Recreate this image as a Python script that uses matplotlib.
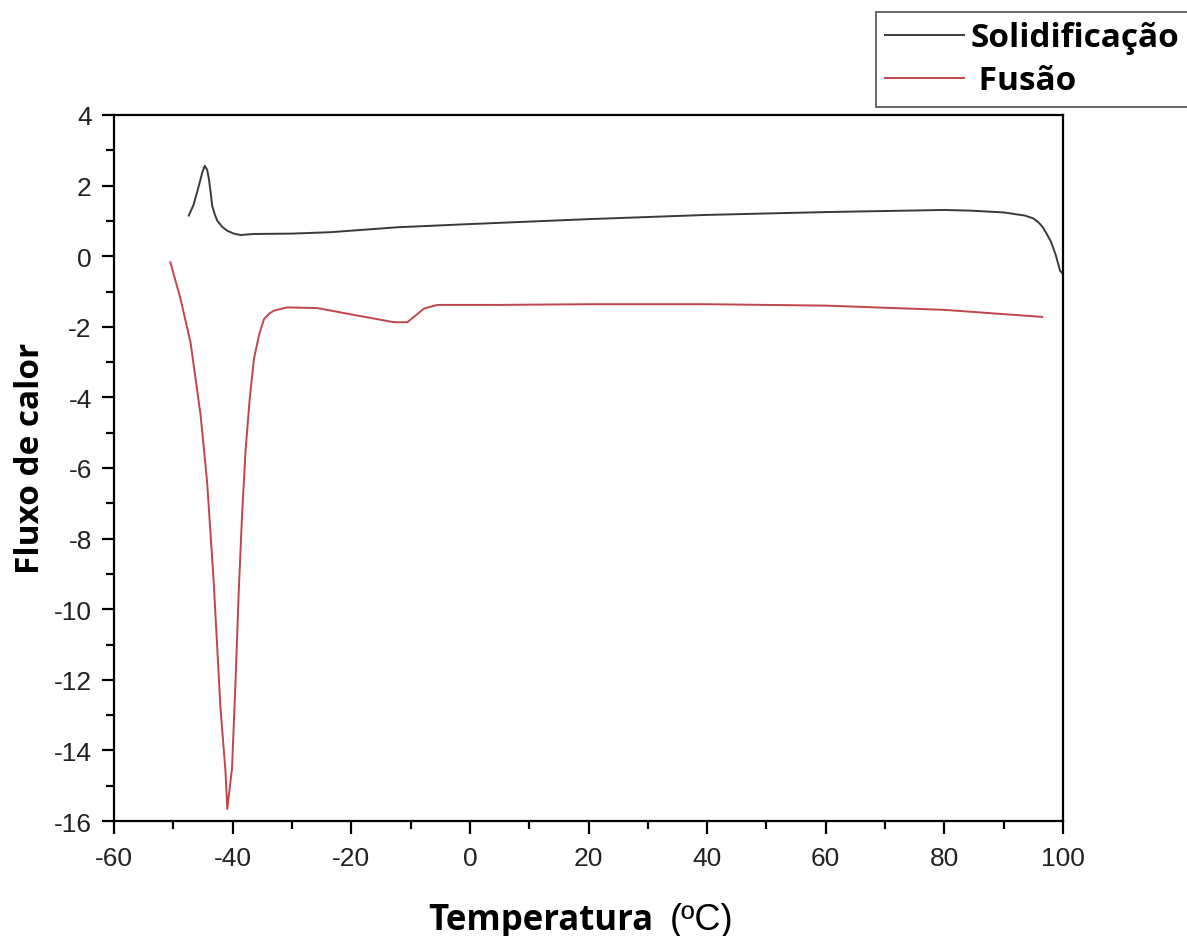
import matplotlib
matplotlib.use("Agg")
import matplotlib.pyplot as plt
from matplotlib.ticker import MultipleLocator

plt.rcParams["axes.unicode_minus"] = False

# Data
solid_T = [-47.4, -46.6, -46.0, -45.5, -45.1, -44.7, -44.3, -44.0, -43.7, -43.45,
           -43.0, -42.6, -41.8, -40.9, -39.8, -38.7, -36.4,
           -30.0, -23.5, -12.2, 0.0, 20.0, 40.0, 60.0, 80.0, 84.5, 90.0, 93.6,
           95.0, 95.8, 96.6, 97.3, 98.0, 98.8, 99.5, 100.0]
solid_Q = [1.15, 1.45, 1.81, 2.12, 2.38, 2.56, 2.45, 2.19, 1.80, 1.43,
           1.18, 1.01, 0.84, 0.72, 0.64, 0.60, 0.63,
           0.64, 0.68, 0.82, 0.91, 1.05, 1.17, 1.25, 1.31, 1.29, 1.24, 1.15,
           1.07, 0.97, 0.82, 0.62, 0.40, 0.02, -0.41, -0.50]

fus_T = [-50.5, -48.8, -47.1, -45.4, -44.3, -43.2, -42.05, -41.2, -40.9, -40.1, -39.5,
         -38.97, -38.4, -37.8, -37.1, -36.4, -35.5, -34.7, -33.8, -33.0, -30.8,
         -25.7, -19.0, -12.8, -10.55, -9.0, -7.7, -5.5, 4.6, 20.0, 40.0, 60.0,
         80.0, 96.5]
fus_Q = [-0.17, -1.2, -2.44, -4.5, -6.4, -9.2, -12.8, -14.6, -15.66, -14.5, -12.0,
         -9.5, -7.3, -5.46, -4.0, -2.9, -2.2, -1.78, -1.62, -1.54, -1.45,
         -1.47, -1.68, -1.87, -1.87, -1.66, -1.48, -1.38, -1.38, -1.36, -1.36,
         -1.40, -1.52, -1.72]

series_labels = ["Solidificação", " Fusão"]
x_label = "Temperatura"
x_unit = "(ºC)"
y_label = "Fluxo de calor"

fig = plt.figure(figsize=(11.87, 9.37), dpi=100)
ax = fig.add_axes([114 / 1187, 1 - 822 / 937, 949 / 1187, 706 / 937])

l1, = ax.plot(solid_T, solid_Q, color="#3a3a3a", lw=1.4)
l2, = ax.plot(fus_T, fus_Q, color="#c0464a", lw=1.4)

ax.set_xlim(-60, 100)
ax.set_ylim(-16, 4)
ax.xaxis.set_major_locator(MultipleLocator(20))
ax.xaxis.set_minor_locator(MultipleLocator(10))
ax.yaxis.set_major_locator(MultipleLocator(2))
ax.yaxis.set_minor_locator(MultipleLocator(1))
ax.tick_params(which="major", direction="out", length=9, width=1.6,
               labelsize=19, pad=7, colors="black")
ax.tick_params(axis="x", which="major", pad=9)
ax.tick_params(which="minor", direction="out", length=6, width=1.6)
for lab in ax.get_xticklabels() + ax.get_yticklabels():
    lab.set_fontfamily("Liberation Sans")
    lab.set_color("#222222")
for s in ax.spines.values():
    s.set_linewidth(1.6)

# axis labels
fig.text(0.4555, 0.008, x_label, fontfamily="Open Sans", fontweight="bold",
         fontsize=25, ha="center", va="baseline")
fig.text(0.591, 0.008, x_unit, fontfamily="Liberation Sans",
         fontsize=26, ha="center", va="baseline")
fig.text(0.026, 0.511, y_label, fontfamily="Open Sans", fontweight="bold",
         fontsize=24, rotation=90, ha="center", va="center")

leg = ax.legend([l1, l2], series_labels, loc="upper left",
                bbox_to_anchor=(876 / 1187, 1 - 13 / 937),
                bbox_transform=fig.transFigure,
                prop={"family": "Open Sans", "weight": "bold", "size": 24},
                frameon=True, fancybox=False, edgecolor="#333333",
                handlelength=2.35, handletextpad=0.2, borderpad=0.28,
                labelspacing=0.3, borderaxespad=0)
leg.get_frame().set_linewidth(1.3)
leg.set_clip_on(False)

fig.savefig("out.png", dpi=100)
